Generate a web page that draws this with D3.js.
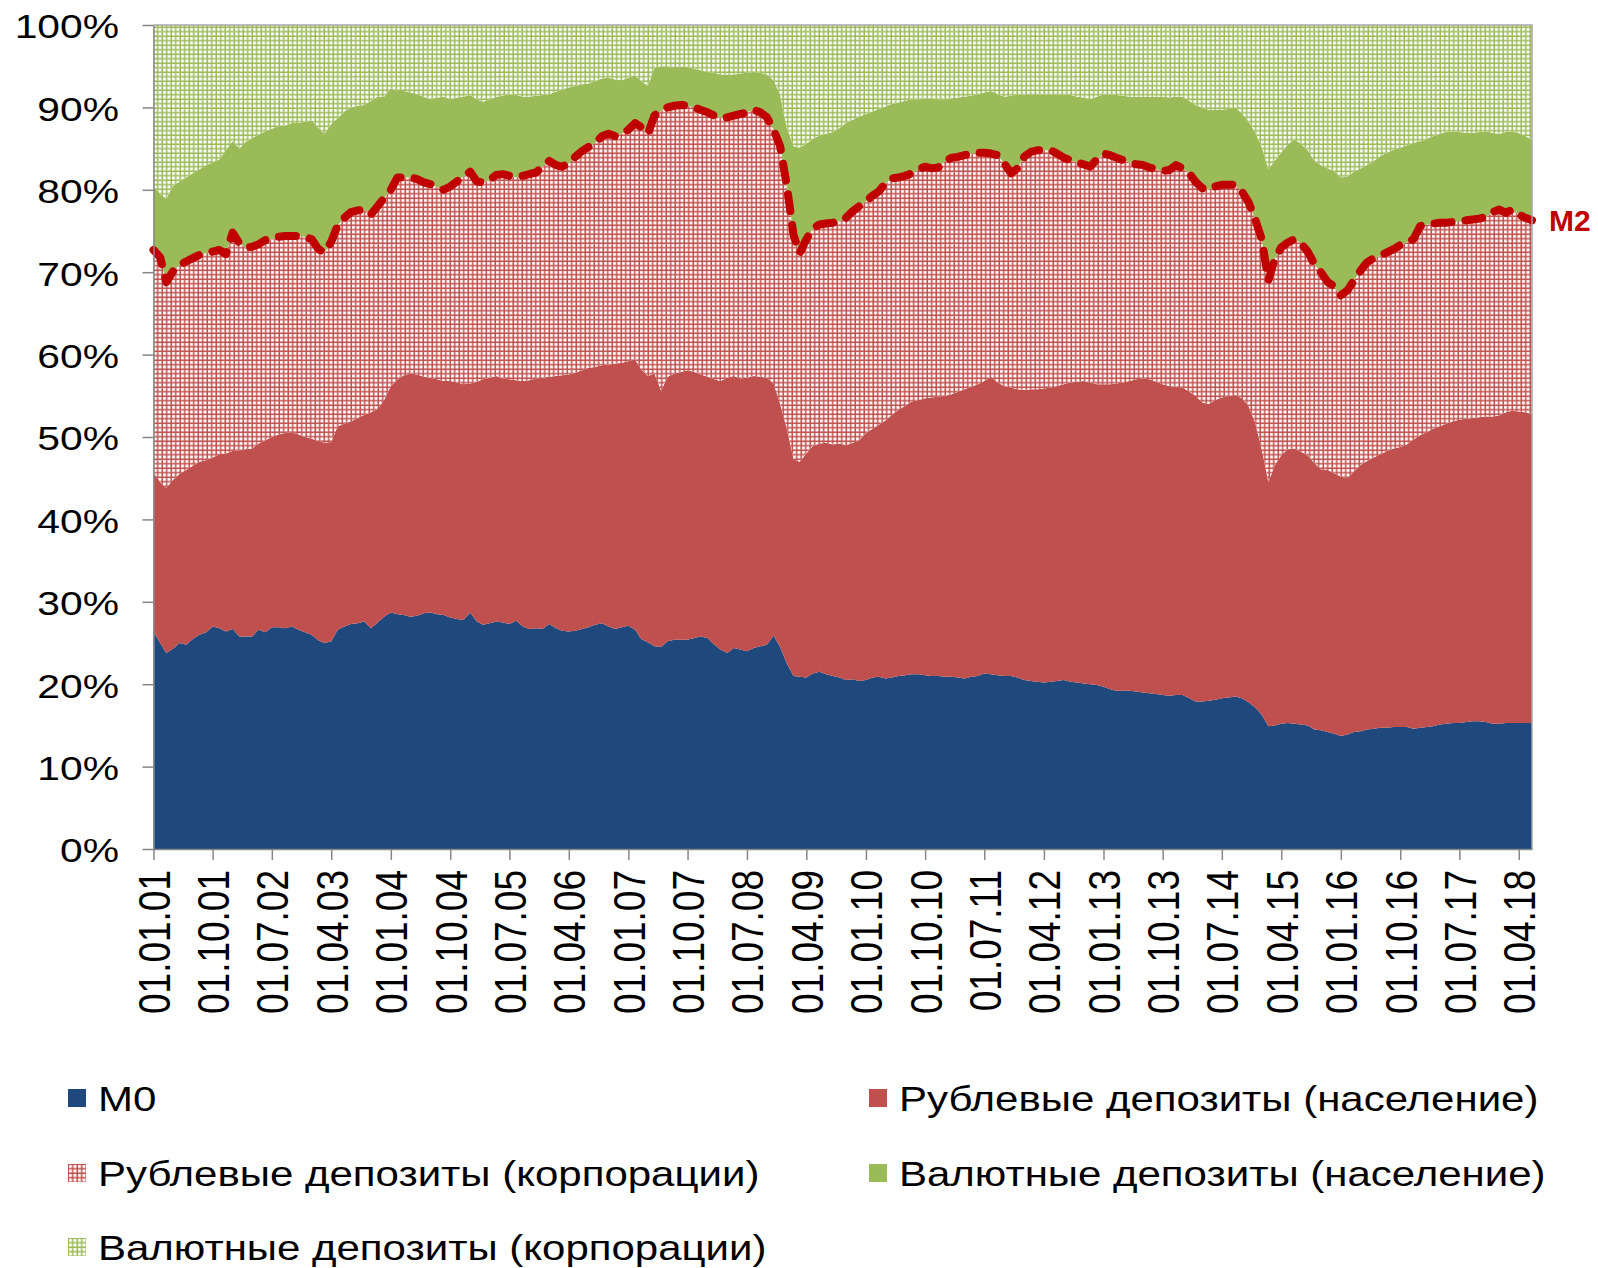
<!DOCTYPE html>
<html>
<head>
<meta charset="utf-8">
<script src="https://cdn.jsdelivr.net/npm/d3@7"></script>
<style>
  body { margin: 0; background: #fff; }
  svg text { font-family: "Liberation Sans", Arial, sans-serif; fill: #000; }
</style>
</head>
<body>
<svg id="chart"></svg>
<script>
// shares of M2X components, %, monthly from 01.01.01 to 01.06.18
const firstMonth = "01.01.01"
const lastMonth = "01.06.18"

const m0 = [
  26.4, 25.0, 23.8, 24.3, 25.0, 24.8, 25.5, 26.0, 26.3, 27.0,
  26.8, 26.4, 26.7, 25.8, 25.8, 25.8, 26.6, 26.3, 26.9, 26.9,
  26.8, 27.0, 26.6, 26.3, 26.0, 25.3, 25.0, 25.2, 26.6, 27.0,
  27.3, 27.4, 27.6, 26.8, 27.5, 28.2, 28.7, 28.5, 28.4, 28.2,
  28.3, 28.6, 28.7, 28.5, 28.4, 28.1, 27.9, 27.8, 28.7, 27.6,
  27.2, 27.4, 27.6, 27.5, 27.3, 27.7, 27.0, 26.7, 26.8, 26.7,
  27.3, 26.8, 26.5, 26.4, 26.5, 26.7, 26.9, 27.2, 27.4, 27.0,
  26.7, 26.9, 27.1, 26.6, 25.5, 25.1, 24.6, 24.5, 25.2, 25.4,
  25.4, 25.4, 25.6, 25.8, 25.6, 24.8, 24.2, 23.8, 24.4, 24.2,
  24.0, 24.4, 24.6, 24.8, 25.9, 24.5, 22.5, 21.0, 20.9, 20.8,
  21.3, 21.5, 21.2, 21.0, 20.8, 20.5, 20.6, 20.4, 20.5, 20.8,
  20.9, 20.7, 20.8, 21.0, 21.1, 21.2, 21.2, 21.1, 21.0, 21.0,
  20.9, 20.9, 20.8, 20.7, 20.9, 21.0, 21.3, 21.2, 21.1, 21.0,
  21.0, 20.8, 20.5, 20.4, 20.3, 20.2, 20.3, 20.4, 20.5, 20.3,
  20.2, 20.1, 20.0, 19.9, 19.7, 19.4, 19.2, 19.2, 19.2, 19.1,
  19.0, 18.9, 18.8, 18.7, 18.6, 18.7, 18.7, 18.3, 17.9, 17.9,
  18.0, 18.1, 18.3, 18.4, 18.5, 18.3, 17.8, 17.2, 16.3, 14.9,
  15.0, 15.2, 15.3, 15.2, 15.1, 15.0, 14.5, 14.4, 14.2, 14.0,
  13.7, 13.9, 14.2, 14.3, 14.5, 14.6, 14.7, 14.7, 14.8, 14.8,
  14.8, 14.6, 14.7, 14.8, 14.9, 15.1, 15.2, 15.3, 15.3, 15.4,
  15.5, 15.5, 15.4, 15.2, 15.2, 15.3, 15.3, 15.3, 15.3, 15.3
]

const rubHouseholds = [
  19.3, 19.5, 20.0, 20.5, 20.5, 21.2, 21.0, 21.0, 20.9, 20.5,
  21.1, 21.6, 21.6, 22.6, 22.7, 22.8, 22.6, 23.3, 23.1, 23.4,
  23.7, 23.6, 23.7, 23.7, 23.8, 24.2, 24.3, 24.2, 24.7, 24.6,
  24.6, 24.9, 25.1, 26.2, 25.9, 26.3, 27.5, 28.5, 29.1, 29.5,
  29.3, 28.7, 28.5, 28.5, 28.4, 28.7, 28.7, 28.6, 27.8, 29.1,
  29.8, 29.8, 29.8, 29.6, 29.7, 29.2, 29.8, 30.2, 30.3, 30.5,
  30.0, 30.6, 31.0, 31.2, 31.3, 31.4, 31.5, 31.3, 31.3, 31.8,
  32.2, 32.1, 32.1, 32.8, 32.7, 32.3, 33.1, 31.1, 32.1, 32.3,
  32.5, 32.7, 32.3, 31.8, 31.7, 32.2, 32.6, 33.4, 33.0, 32.9,
  33.2, 33.0, 32.7, 32.4, 30.6, 29.5, 28.5, 26.3, 26.1, 27.2,
  27.6, 27.7, 28.1, 28.1, 28.4, 28.5, 28.7, 29.2, 30.0, 30.2,
  30.6, 31.3, 31.9, 32.3, 32.7, 33.1, 33.3, 33.6, 33.8, 33.9,
  34.1, 34.3, 34.7, 35.1, 35.2, 35.4, 35.5, 36.1, 35.5, 35.2,
  35.0, 35.0, 35.2, 35.4, 35.5, 35.7, 35.7, 35.8, 35.9, 36.3,
  36.5, 36.7, 36.6, 36.5, 36.7, 37.0, 37.3, 37.4, 37.6, 37.9,
  38.1, 38.1, 37.9, 37.7, 37.6, 37.4, 37.3, 37.2, 37.1, 36.3,
  36.0, 36.4, 36.5, 36.6, 36.6, 36.4, 36.0, 34.6, 32.2, 29.6,
  31.5, 32.6, 33.2, 33.4, 33.1, 32.8, 32.3, 31.7, 31.8, 31.6,
  31.5, 31.1, 31.6, 32.3, 32.6, 32.9, 33.2, 33.6, 33.8, 34.0,
  34.3, 35.1, 35.5, 35.8, 36.1, 36.2, 36.4, 36.6, 36.8, 36.8,
  36.8, 36.9, 37.1, 37.3, 37.4, 37.7, 37.9, 37.8, 37.7, 37.5
]

const rubCorporate = [
  27.0, 27.3, 25.0, 25.3, 25.4, 25.3, 25.2, 25.1, 25.1, 25.0,
  24.8, 24.2, 26.5, 25.1, 24.5, 24.5, 24.2, 24.3, 24.0, 24.0,
  23.9, 23.8, 24.1, 24.3, 24.2, 23.3, 23.1, 24.3, 24.4, 25.0,
  25.4, 25.2, 24.9, 24.0, 24.6, 24.5, 23.8, 24.5, 24.0, 23.8,
  23.7, 23.6, 23.5, 23.3, 23.2, 23.6, 24.4, 25.2, 25.7, 24.3,
  23.9, 24.0, 24.4, 24.8, 24.7, 24.6, 24.9, 25.0, 25.0, 25.6,
  26.2, 25.6, 25.3, 25.6, 26.2, 26.6, 26.8, 27.2, 27.8, 28.0,
  27.6, 27.8, 28.1, 28.7, 29.4, 29.4, 31.3, 34.0, 32.7, 32.5,
  32.4, 32.1, 32.1, 32.1, 32.1, 32.0, 31.9, 31.6, 31.6, 32.1,
  32.2, 32.3, 32.1, 31.6, 30.8, 31.3, 29.5, 27.2, 25.3, 26.0,
  26.4, 26.6, 26.6, 26.9, 27.0, 27.6, 28.1, 28.4, 28.1, 28.3,
  28.3, 28.8, 28.7, 28.2, 27.9, 27.7, 28.0, 28.1, 27.8, 27.8,
  28.5, 28.7, 28.5, 28.4, 28.3, 28.1, 27.7, 27.1, 27.6, 27.0,
  26.0, 26.8, 28.3, 28.8, 29.0, 28.9, 28.8, 28.2, 27.5, 27.0,
  26.6, 26.3, 26.2, 27.3, 28.0, 27.8, 27.4, 27.0, 26.5, 26.1,
  25.9, 25.7, 25.8, 25.9, 26.2, 26.9, 26.6, 26.5, 26.0, 26.0,
  26.0, 25.9, 25.8, 25.6, 25.5, 25.1, 24.7, 24.7, 25.5, 24.5,
  25.0, 25.2, 25.1, 25.4, 25.3, 24.7, 24.2, 23.9, 22.8, 22.7,
  22.0, 22.8, 23.2, 23.6, 24.1, 24.2, 24.1, 24.1, 24.2, 24.5,
  24.5, 24.3, 25.4, 25.2, 24.9, 24.7, 24.4, 24.2, 24.1, 24.1,
  24.1, 24.1, 24.2, 24.8, 25.0, 24.2, 24.4, 23.9, 23.6, 23.5
]

const fxHouseholds = [
  7.8, 7.7, 10.1, 10.4, 10.1, 10.2, 10.3, 10.4, 10.7, 10.8,
  11.0, 12.6, 11.1, 11.5, 12.8, 13.2, 13.3, 13.2, 13.4, 13.4,
  13.4, 13.7, 13.7, 14.0, 14.4, 14.7, 14.4, 14.3, 13.0, 12.9,
  12.7, 12.7, 12.7, 13.8, 13.3, 12.3, 12.3, 10.5, 10.5, 10.3,
  10.3, 10.4, 10.3, 10.9, 11.3, 10.6, 10.2, 9.7, 9.3, 10.0,
  9.8, 9.8, 9.5, 9.5, 9.9, 10.0, 9.6, 9.4, 9.3, 8.7,
  8.1, 8.9, 9.4, 9.2, 8.6, 8.1, 7.7, 7.5, 7.0, 6.8,
  6.9, 6.5, 6.3, 5.8, 5.6, 5.8, 5.8, 5.4, 5.0, 4.7,
  4.6, 4.7, 4.7, 4.8, 4.9, 5.2, 5.3, 5.2, 5.0, 4.9,
  4.8, 4.6, 4.8, 5.2, 6.0, 6.2, 7.0, 10.8, 12.8, 11.6,
  10.9, 10.8, 10.9, 11.0, 11.3, 11.5, 11.1, 10.9, 10.6, 10.2,
  10.0, 9.3, 9.0, 9.1, 9.1, 9.0, 8.5, 8.3, 8.5, 8.3,
  7.5, 7.2, 7.2, 7.1, 7.0, 7.1, 7.3, 7.6, 7.4, 8.1,
  9.4, 9.0, 7.6, 7.0, 6.8, 6.8, 6.8, 7.2, 7.7, 7.9,
  8.0, 8.1, 8.2, 7.6, 7.2, 7.4, 7.6, 7.8, 8.0, 8.2,
  8.3, 8.6, 8.8, 9.0, 8.8, 8.3, 8.7, 8.8, 9.3, 9.8,
  9.7, 9.3, 9.1, 9.2, 9.4, 9.5, 9.8, 10.5, 11.2, 13.5,
  12.0, 11.5, 11.9, 12.1, 12.1, 12.3, 12.5, 13.0, 13.8, 14.0,
  14.3, 13.8, 13.2, 12.4, 11.8, 11.8, 12.1, 12.1, 12.1, 11.8,
  11.8, 11.7, 10.3, 10.4, 10.6, 10.8, 11.0, 11.0, 10.8, 10.6,
  10.5, 10.5, 10.4, 9.6, 9.2, 9.8, 9.5, 9.9, 9.9, 9.8
]

const fxCorporate = [
  19.5, 20.5, 21.1, 19.5, 19.0, 18.5, 18.0, 17.5, 17.0, 16.7,
  16.3, 15.2, 14.1, 15.0, 14.2, 13.7, 13.3, 12.9, 12.6, 12.3,
  12.2, 11.9, 11.9, 11.7, 11.6, 12.5, 13.2, 12.0, 11.3, 10.5,
  10.0, 9.8, 9.7, 9.2, 8.7, 8.7, 7.7, 8.0, 8.0, 8.2,
  8.4, 8.7, 9.0, 8.8, 8.7, 9.0, 8.8, 8.7, 8.5, 9.0,
  9.3, 9.0, 8.7, 8.6, 8.4, 8.5, 8.7, 8.7, 8.6, 8.5,
  8.4, 8.1, 7.8, 7.6, 7.4, 7.2, 7.1, 6.8, 6.5, 6.4,
  6.6, 6.7, 6.4, 6.1, 6.8, 7.4, 5.2, 5.0, 5.0, 5.1,
  5.1, 5.1, 5.3, 5.5, 5.7, 5.8, 6.0, 6.0, 6.0, 5.9,
  5.8, 5.7, 5.8, 6.0, 6.7, 8.5, 12.5, 14.7, 14.9, 14.4,
  13.8, 13.4, 13.2, 13.0, 12.5, 11.9, 11.5, 11.1, 10.8, 10.5,
  10.2, 9.9, 9.6, 9.4, 9.2, 9.0, 9.0, 8.9, 8.9, 9.0,
  9.0, 8.9, 8.8, 8.7, 8.6, 8.4, 8.2, 8.0, 8.4, 8.7,
  8.6, 8.4, 8.4, 8.4, 8.4, 8.4, 8.4, 8.4, 8.4, 8.5,
  8.7, 8.8, 9.0, 8.7, 8.4, 8.4, 8.5, 8.6, 8.7, 8.7,
  8.7, 8.7, 8.7, 8.7, 8.8, 8.7, 8.7, 9.2, 9.7, 10.0,
  10.3, 10.3, 10.3, 10.2, 10.0, 10.7, 11.7, 13.0, 14.8, 17.5,
  16.5, 15.5, 14.5, 13.9, 14.4, 15.2, 16.5, 17.0, 17.4, 17.7,
  18.5, 18.4, 17.8, 17.4, 17.0, 16.5, 15.9, 15.5, 15.1, 14.9,
  14.6, 14.3, 14.1, 13.8, 13.5, 13.2, 13.0, 12.9, 13.0, 13.1,
  13.1, 13.0, 12.9, 13.1, 13.2, 13.0, 12.9, 13.1, 13.5, 13.9
]

const xTickLabels = [
  "01.01.01", "01.10.01", "01.07.02", "01.04.03", "01.01.04", "01.10.04",
  "01.07.05", "01.04.06", "01.01.07", "01.10.07", "01.07.08", "01.04.09",
  "01.01.10", "01.10.10", "01.07.11", "01.04.12", "01.01.13", "01.10.13",
  "01.07.14", "01.04.15", "01.01.16", "01.10.16", "01.07.17", "01.04.18"
]
const yTicks = [0, 0.1, 0.2, 0.3, 0.4, 0.5, 0.6, 0.7, 0.8, 0.9, 1]

const seriesNames = {
  m0: "М0",
  rubHouseholds: "Рублевые депозиты (население)",
  rubCorporate: "Рублевые депозиты (корпорации)",
  fxHouseholds: "Валютные депозиты (население)",
  fxCorporate: "Валютные депозиты (корпорации)"
}
const keys = ["m0", "rubHouseholds", "rubCorporate", "fxHouseholds", "fxCorporate"]

// set the dimensions
const width = 1598
const height = 1268
const plot = { left: 153.5, right: 1532, top: 25, bottom: 849 }
const stretch = 1.2 // labels in the picture are wider than tall

const parseDate = d3.timeParse("%d.%m.%y")
const months = d3.timeMonth.range(parseDate(firstMonth), d3.timeMonth.offset(parseDate(lastMonth), 1))
const table = months.map((date, i) => ({
  date,
  m0: m0[i],
  rubHouseholds: rubHouseholds[i],
  rubCorporate: rubCorporate[i],
  fxHouseholds: fxHouseholds[i],
  fxCorporate: fxCorporate[i]
}))

const stacked = d3.stack().keys(keys).offset(d3.stackOffsetExpand)(table)

const x = d3.scaleTime()
  .domain(d3.extent(months))
  .range([plot.left, plot.right])
const y = d3.scaleLinear()
  .domain([0, 1])
  .range([plot.bottom, plot.top])

const svg = d3.select("#chart")
  .attr("width", width)
  .attr("height", height)
  .attr("viewBox", [0, 0, width, height])

const defs = svg.append("defs")
function addPattern(id, color) {
  const p = defs.append("pattern")
    .attr("id", id)
    .attr("patternUnits", "userSpaceOnUse")
    .attr("width", 4.5)
    .attr("height", 4.5)
  p.append("rect").attr("width", 4.5).attr("height", 4.5).attr("fill", color)
  p.append("rect").attr("x", 1).attr("y", 1).attr("width", 3).attr("height", 3).attr("fill", "#fff")
}
addPattern("rubCorpFill", "#c0504d")
addPattern("fxCorpFill", "#9bbb59")

const fills = {
  m0: "#1f497d",
  rubHouseholds: "#c0504d",
  rubCorporate: "url(#rubCorpFill)",
  fxHouseholds: "#9bbb59",
  fxCorporate: "url(#fxCorpFill)"
}

const area = d3.area()
  .x(d => x(d.data.date))
  .y0(d => y(d[0]))
  .y1(d => y(d[1]))

svg.append("g")
  .selectAll("path")
  .data(stacked)
  .enter()
  .append("path")
  .attr("fill", d => fills[d.key])
  .attr("d", area)

// M2 = M0 + ruble deposits, top of the third layer
const m2Layer = stacked[2]
const m2Line = d3.line()
  .x(d => x(d.data.date))
  .y(d => y(d[1]))

svg.append("path")
  .datum(m2Layer)
  .attr("fill", "none")
  .attr("stroke", "#c00000")
  .attr("stroke-width", 8)
  .attr("stroke-linecap", "round")
  .attr("stroke-linejoin", "round")
  .attr("stroke-dasharray", "17,14")
  .attr("d", m2Line)

const last = m2Layer[m2Layer.length - 1]
svg.append("text")
  .attr("x", x(last.data.date) + 17)
  .attr("y", y(last[1]))
  .attr("dy", "0.35em")
  .attr("font-size", 30)
  .attr("font-weight", "bold")
  .style("fill", "#c00000")
  .text("M2")

// frame
svg.append("path")
  .attr("fill", "none")
  .attr("stroke", "#a6a6a6")
  .attr("stroke-width", 1.5)
  .attr("d", `M${plot.left},${plot.top}H${plot.right}V${plot.bottom}`)

// axes
const yAxis = svg.append("g")
  .attr("transform", `translate(${plot.left},0)`)
  .call(d3.axisLeft(y).tickValues(yTicks).tickFormat(d3.format(".0%")).tickSize(11).tickSizeOuter(0))
yAxis.selectAll("line").attr("stroke", "#868686").attr("stroke-width", 1.5)
yAxis.select(".domain").attr("stroke", "#868686").attr("stroke-width", 1.5)
yAxis.selectAll("text")
  .attr("x", -34.5 / stretch)
  .attr("dy", "0.38em")
  .attr("transform", `scale(${stretch},1)`)
  .attr("font-size", 34)
  .attr("font-family", null)

const tickDates = xTickLabels.map(parseDate)
const xAxis = svg.append("g")
  .attr("transform", `translate(0,${plot.bottom})`)
  .call(d3.axisBottom(x).tickValues(tickDates).tickFormat(d3.timeFormat("%d.%m.%y")).tickSize(11).tickSizeOuter(0))
xAxis.selectAll("line").attr("stroke", "#868686").attr("stroke-width", 1.5)
xAxis.select(".domain").attr("stroke", "#868686").attr("stroke-width", 1.5)
xAxis.selectAll("text")
  .attr("text-anchor", "end")
  .attr("x", -21)
  .attr("y", 0)
  .attr("dy", "0.36em")
  .attr("transform", `scale(${stretch},1) rotate(-90)`)
  .attr("font-size", 37)
  .attr("font-family", null)

// legend
const legendItems = [
  { key: "m0", col: 0, row: 0 },
  { key: "rubHouseholds", col: 1, row: 0 },
  { key: "rubCorporate", col: 0, row: 1 },
  { key: "fxHouseholds", col: 1, row: 1 },
  { key: "fxCorporate", col: 0, row: 2 }
]
const legendCols = [68, 869]
const legendRows = [1098, 1173, 1247]

const legend = svg.append("g")
  .selectAll("g")
  .data(legendItems)
  .enter()
  .append("g")
  .attr("transform", d => `translate(${legendCols[d.col]},${legendRows[d.row]})`)

legend.append("rect")
  .attr("x", 0)
  .attr("y", -9)
  .attr("width", 18)
  .attr("height", 18)
  .attr("fill", d => fills[d.key])

legend.append("text")
  .attr("transform", `translate(30,0) scale(${stretch},1)`)
  .attr("dy", "0.36em")
  .attr("font-size", 35)
  .text(d => seriesNames[d.key])
</script>
</body>
</html>
